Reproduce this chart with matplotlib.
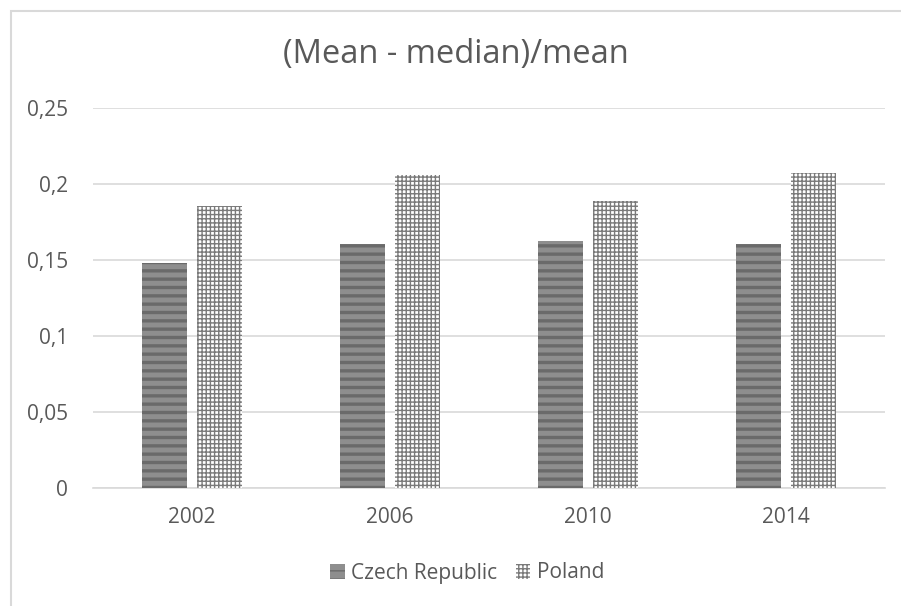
import matplotlib
matplotlib.use("Agg")
import matplotlib.pyplot as plt
import numpy as np
from matplotlib.patches import Rectangle

years = ["2002", "2006", "2010", "2014"]
czech = [0.148, 0.1605, 0.1625, 0.1605]
poland = [0.1855, 0.206, 0.189, 0.207]
yticks = [0, 0.05, 0.1, 0.15, 0.2, 0.25]
ytick_labels = ["0", "0,05", "0,1", "0,15", "0,2", "0,25"]

plt.rcParams['font.family'] = ['Open Sans', 'DejaVu Sans']
plt.rcParams['hatch.linewidth'] = 2.4

fig = plt.figure(figsize=(9.01, 6.06), dpi=100)
W, H = 901, 606
# chart border (only top and left visible)
fig.patches.append(Rectangle((10.5 / W, -0.1), 1.2, 1.1 - 10.5 / H, transform=fig.transFigure,
                             fill=False, edgecolor='#d9d9d9', linewidth=1.5))

ax = fig.add_axes([93 / W, (H - 488) / H, (885 - 93) / W, (488 - 108) / H])
x = np.arange(len(years))
w = 0.227
off = 0.141
b1 = ax.bar(x - off, czech, w, color='#8e8e8e', hatch='--', edgecolor='#6a6a6a', linewidth=0,
            label='Czech Republic', zorder=3)
plt.rcParams['hatch.linewidth'] = 1.0
b2 = ax.bar(x + off, poland, w, color='white', hatch='++++', edgecolor='#7a7a7a', linewidth=0,
            label='Poland', zorder=3)
for p in b1:
    if hasattr(p, 'set_hatch_linewidth'):
        p.set_hatch_linewidth(2.4)
for p in b2:
    if hasattr(p, 'set_hatch_linewidth'):
        p.set_hatch_linewidth(1.0)

ax.set_xlim(-0.5, 3.5)
ax.set_ylim(0, 0.25)
ax.set_yticks(yticks)
ax.set_yticklabels(ytick_labels)
ax.set_xticks(x)
ax.set_xticklabels(years)
ax.grid(axis='y', color='#d9d9d9', linewidth=1.2, zorder=0)
for s in ['top', 'right', 'left']:
    ax.spines[s].set_visible(False)
ax.spines['bottom'].set_color('#d9d9d9')
ax.spines['bottom'].set_linewidth(1.2)
ax.tick_params(axis='both', length=0, labelsize=15, colors='#595959')
ax.tick_params(axis='y', pad=18)
ax.tick_params(axis='x', pad=14)

fig.text(0.5 * (10 / W + 1), (H - 54) / H, "(Mean - median)/mean", ha='center', va='center',
         fontsize=23.5, color='#595959')

leg = fig.legend(handles=[b1, b2], labels=['Czech Republic', 'Poland'], loc='center',
                 bbox_to_anchor=(467 / W, (H - 573) / H), ncol=2, frameon=False,
                 fontsize=15, handlelength=0.7, handleheight=0.7, handletextpad=0.3,
                 columnspacing=0.9, labelcolor='#595959')

fig.savefig("out.png", dpi=100)
